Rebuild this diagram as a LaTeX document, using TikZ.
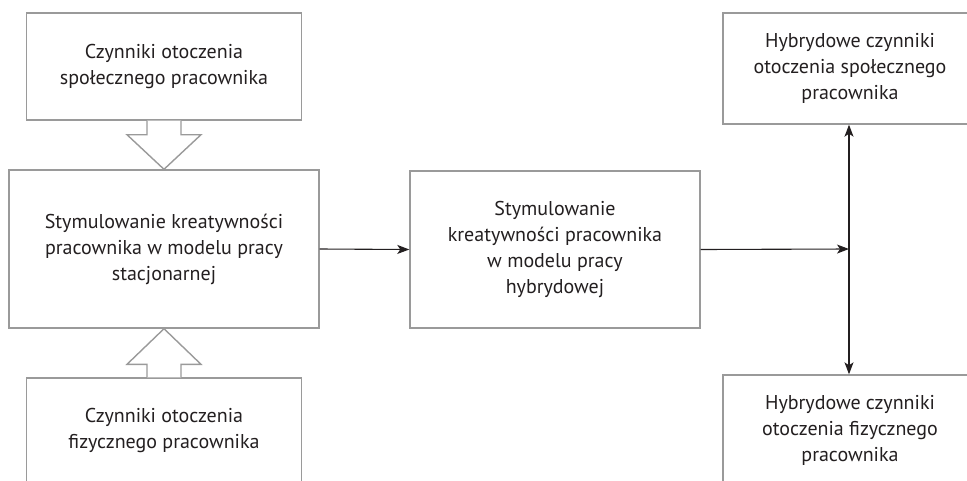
\documentclass[tikz,border=0pt]{standalone}
\usepackage{fontspec}
\setmainfont{PT Sans}
\usetikzlibrary{calc,arrows.meta}
\definecolor{txt}{HTML}{231F20}
\definecolor{boxc}{HTML}{9A9A9A}
\tikzset{
  box/.style={draw=boxc, line width=1.4pt, fill=white, text=txt, align=center,
    inner sep=0pt, font=\fontsize{20}{26}\selectfont},
  hollow/.style={draw=boxc, line width=1.4pt, fill=white, line join=miter},
  tipb/.tip={Stealth[length=12pt,width=9pt,inset=3pt]},
  conn/.style={draw=txt, line width=1.1pt, -tipb},
  conn2/.style={draw=txt, line width=1.1pt, tipb-tipb}
}
\begin{document}
\begin{tikzpicture}[x=1pt,y=-1pt]
\useasboundingbox (0,0) rectangle (967,480);
\clip (0,0) rectangle (967,480);
\node[box, minimum width=275pt, minimum height=107pt] (tl) at (164,66.5)
  {Czynniki otoczenia\\społecznego pracownika};
\node[box, minimum width=310pt, minimum height=158pt] (main) at (164,249)
  {Stymulowanie kreatywności\\pracownika w modelu pracy\\stacjonarnej};
\node[box, minimum width=275pt, minimum height=104pt] (bl) at (164,430)
  {Czynniki otoczenia\\fizycznego pracownika};
\node[box, minimum width=290pt, minimum height=157pt] (mid) at (555,249.5)
  {Stymulowanie\\kreatywności pracownika\\w modelu pracy\\hybrydowej};
\node[box, minimum width=254pt, minimum height=111pt] (tr) at (850,68.5)
  {Hybrydowe czynniki\\otoczenia społecznego\\pracownika};
\node[box, minimum width=254pt, minimum height=111pt] (br) at (850,430.5)
  {Hybrydowe czynniki\\otoczenia fizycznego\\pracownika};
\coordinate (j) at (849,249);
% hollow arrows
\draw[hollow] ($(tl.south)+(-17,0)$) -- ++(0,14) -- ++(-20,0) -- (main.north)
  -- ($(tl.south)+(37,14)$) -- ++(-20,0) -- ($(tl.south)+(17,0)$);
\draw[hollow] ($(bl.north)+(-17,0)$) -- ++(0,-13) -- ++(-20,0) -- (main.south)
  -- ($(bl.north)+(37,-13)$) -- ++(-20,0) -- ($(bl.north)+(17,0)$);
% connectors
\draw[conn] (main.east) -- (mid.west);
\draw[conn] (mid.east) -- (j);
\draw[conn2] (tr.south -| j) -- (br.north -| j);
\end{tikzpicture}
\end{document}
